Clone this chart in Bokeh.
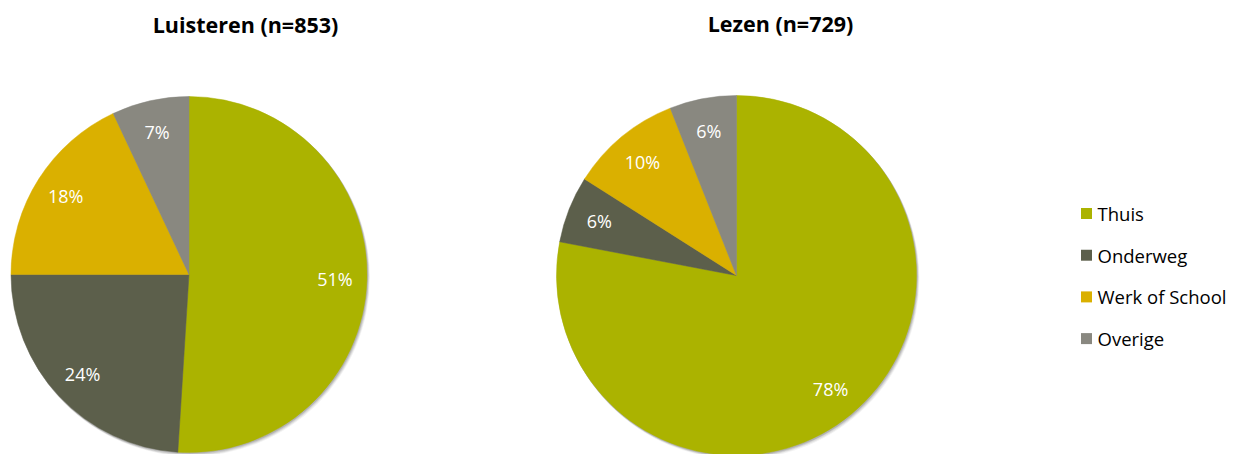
import numpy as np
from bokeh.plotting import figure
from bokeh.models import ColumnDataSource, Range1d
from bokeh.embed import file_html
from bokeh.resources import INLINE
from bokeh.core.properties import value

# ---- data ----
categories = ["Thuis", "Onderweg", "Werk of School", "Overige"]
luisteren = [51, 24, 18, 7]
lezen = [78, 6, 10, 6]
titles = ["Luisteren (n=853)", "Lezen (n=729)"]
colors = ["#ABB300", "#5C5F4B", "#DAB000", "#898880"]

# ---- layout (pixels, y measured from top) ----
W, H = 1239, 454
pies = [
    dict(vals=luisteren, title=titles[0], cx=188.5, cy=274, r=178, tx=245, ty=24),
    dict(vals=lezen, title=titles[1], cx=736, cy=275, r=180, tx=780, ty=23),
]
FONT = "Open Sans"

p = figure(width=W, height=H, x_range=Range1d(0, W), y_range=Range1d(0, H),
           output_backend="svg", toolbar_location=None, min_border=0)
p.axis.visible = False
p.grid.visible = False
p.outline_line_color = None
p.background_fill_color = "white"


def Y(y):
    return H - y


for pie in pies:
    vals = np.array(pie["vals"], dtype=float)
    frac = vals / vals.sum()
    cum = np.concatenate([[0], np.cumsum(frac)])
    start = np.pi / 2 - 2 * np.pi * cum[:-1]
    end = np.pi / 2 - 2 * np.pi * cum[1:]
    mid = (start + end) / 2
    cx, cy, r = pie["cx"], Y(pie["cy"]), pie["r"]

    # soft shadow
    for k, a in [(4, 0.05), (3, 0.07), (2, 0.09), (1, 0.12)]:
        p.circle(x=cx + k * 0.6, y=cy - k * 0.8, radius=r + 0.5, fill_color="#000000",
                 fill_alpha=a, line_color=None)

    src = ColumnDataSource(dict(start=start, end=end, color=colors,
                                cat=categories))
    p.wedge(x=cx, y=cy, radius=r, start_angle="start", end_angle="end",
            direction="clock", fill_color="color", line_color="color",
            line_width=0.5, source=src)

    lr = 0.82 * r
    lab = ColumnDataSource(dict(
        x=cx + lr * np.cos(mid), y=cy + lr * np.sin(mid),
        t=[f"{int(v)}%" for v in pie["vals"]]))
    p.text(x="x", y="y", text="t", source=lab, text_color="white",
           text_font=value(FONT), text_font_size="18px",
           text_align="center", text_baseline="middle")

    p.text(x=[pie["tx"]], y=[Y(pie["ty"])], text=[pie["title"]],
           text_font=value(FONT), text_font_size="21.5px", text_font_style="bold",
           text_color="black", text_align="center", text_baseline="middle")

# ---- legend ----
leg_x, leg_y0, leg_dy = 1086, 213, 41.7
ly = [Y(leg_y0 + i * leg_dy) for i in range(len(categories))]
p.rect(x=[leg_x] * len(categories), y=ly, width=11, height=11,
       fill_color=colors, line_color=None)
p.text(x=[leg_x + 11] * len(categories), y=ly, text=categories,
       text_font=value(FONT), text_font_size="18.5px", text_color="black",
       text_align="left", text_baseline="middle")

open("out.html", "w").write(file_html(p, INLINE))
